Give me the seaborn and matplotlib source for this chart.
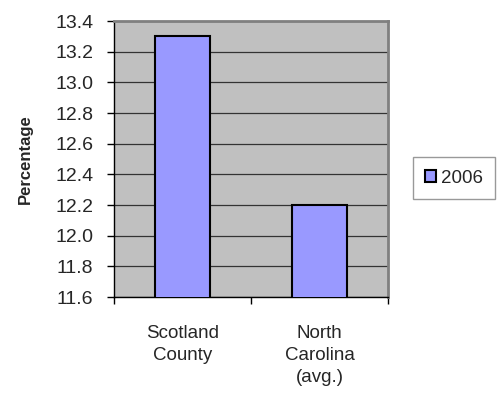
import matplotlib
matplotlib.use("Agg")
import matplotlib.pyplot as plt
import seaborn as sns
import pandas as pd
from matplotlib.patches import Patch

categories = ["Scotland\nCounty", "North\nCarolina\n(avg.)"]
values_2006 = [13.3, 12.2]
series_name = "2006"
yticks = [11.6, 11.8, 12.0, 12.2, 12.4, 12.6, 12.8, 13.0, 13.2, 13.4]

df = pd.DataFrame({"cat": categories, "val": values_2006})

sns.set_style("white")
plt.rcParams['font.family'] = ['Liberation Sans', 'DejaVu Sans']

fig = plt.figure(figsize=(4.97, 3.98), dpi=100)
ax = fig.add_axes([114/497, 1-297/398, (388-114)/497, (297-21)/398])
ax.set_facecolor("#C0C0C0")

sns.barplot(data=df, x="cat", y="val", color="#9999FF", width=0.4,
            edgecolor="black", linewidth=1.5, saturation=1, ax=ax, zorder=3)

ax.set_ylim(11.6, 13.4)
ax.set_xlim(-0.5, 1.5)
ax.set_yticks(yticks)
ax.set_yticklabels([f"{v:.1f}" for v in yticks], fontsize=14)
ax.yaxis.grid(True, color="#333333", linewidth=0.9, zorder=1)
ax.set_axisbelow(True)

ax.set_xticks([-0.5, 0.5, 1.5])
ax.set_xticklabels(["", "", ""])
ax.set_xticks([0, 1], minor=True)
ax.set_xticklabels(categories, minor=True, fontsize=13.5, linespacing=1.4)
ax.tick_params(axis="x", which="minor", length=0, pad=20)
ax.tick_params(axis="x", which="major", length=5, width=1, color="black", direction="out", bottom=True)
ax.tick_params(axis="y", length=5, width=1, color="black", direction="out", left=True, pad=10)

ax.set_xlabel("")
ax.set_ylabel("Percentage", fontsize=12, fontweight="bold")
ax.yaxis.set_label_coords((33-114)/274, 0.5)

for s in ["top", "right"]:
    ax.spines[s].set_color("#808080")
    ax.spines[s].set_linewidth(2)
for s in ["left", "bottom"]:
    ax.spines[s].set_color("black")
    ax.spines[s].set_linewidth(1)

handle = Patch(facecolor="#9999FF", edgecolor="black", linewidth=1.5)
leg = fig.legend([handle], [series_name], loc="center left",
                 bbox_to_anchor=(413/497, 1-178/398), fontsize=13.5,
                 frameon=True, fancybox=False, handlelength=0.6, handleheight=0.6,
                 handletextpad=0.25, borderpad=0.65, borderaxespad=0)
leg.get_frame().set_edgecolor("#808080")
leg.get_frame().set_linewidth(1)

fig.savefig("out.png", dpi=100)
